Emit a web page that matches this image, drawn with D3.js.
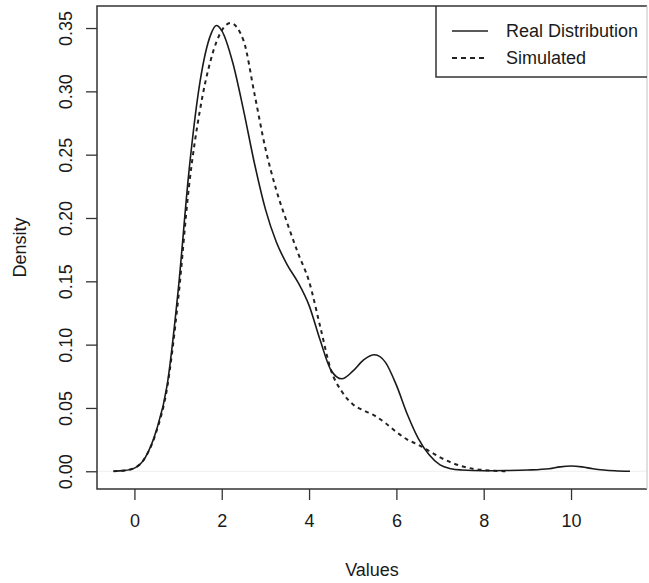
<!DOCTYPE html>
<html>
<head>
<meta charset="utf-8">
<script src="https://cdn.jsdelivr.net/npm/d3@7"></script>
<style>
  body { margin: 0; background: #fff; }
  text { font-family: "Liberation Sans", Arial, sans-serif; fill: #1a1a1a; }
</style>
</head>
<body>
<div id="chart"></div>
<script>
// values
var realX = [-0.48, -0.25, 0, 0.25, 0.5, 0.75, 1.0, 1.25, 1.5, 1.75, 1.88, 2.0, 2.25, 2.5, 2.75, 3.0, 3.25, 3.5, 3.75, 4.0, 4.25, 4.5, 4.75, 5.0, 5.25, 5.5, 5.75, 6.0, 6.25, 6.5, 6.75, 7.0, 7.25, 7.5, 8.0, 8.5, 9.0, 9.5, 9.75, 10.0, 10.25, 10.5, 10.75, 11.0, 11.35];
var realDensity = [0.000, 0.0005, 0.0025, 0.011, 0.032, 0.068, 0.142, 0.237, 0.307, 0.345, 0.352, 0.348, 0.323, 0.285, 0.243, 0.207, 0.181, 0.163, 0.149, 0.131, 0.104, 0.080, 0.073, 0.079, 0.088, 0.092, 0.086, 0.068, 0.045, 0.026, 0.013, 0.005, 0.002, 0.001, 0.0004, 0.0006, 0.001, 0.002, 0.0035, 0.0042, 0.0035, 0.002, 0.001, 0.0004, 0.0];

var simX = [-0.48, -0.25, 0, 0.25, 0.5, 0.75, 1.0, 1.25, 1.5, 1.75, 2.0, 2.2, 2.5, 2.75, 3.0, 3.25, 3.5, 3.75, 4.0, 4.25, 4.5, 4.75, 5.0, 5.25, 5.5, 5.75, 6.0, 6.25, 6.5, 6.75, 7.0, 7.25, 7.5, 7.75, 8.0, 8.25, 8.5];
var simDensity = [0.000, 0.0005, 0.0025, 0.011, 0.031, 0.066, 0.135, 0.225, 0.285, 0.325, 0.348, 0.354, 0.340, 0.298, 0.255, 0.222, 0.196, 0.172, 0.150, 0.115, 0.080, 0.063, 0.053, 0.048, 0.044, 0.038, 0.031, 0.025, 0.021, 0.016, 0.011, 0.007, 0.004, 0.002, 0.001, 0.0004, 0.0];

var xTicks = [0, 2, 4, 6, 8, 10];
var yTicks = [0, 0.05, 0.10, 0.15, 0.20, 0.25, 0.30, 0.35];
var legendLabels = ["Real Distribution", "Simulated"];

var svgWidth = 649;
var svgHeight = 583;

var plotLeft = 97, plotRight = 647, plotTop = 6, plotBottom = 489;

var svg = d3.select("#chart")
  .append("svg")
  .attr("width", svgWidth)
  .attr("height", svgHeight);

var xScale = d3.scaleLinear()
  .domain([-0.857, 11.74])
  .range([plotLeft, plotRight]);

var yScale = d3.scaleLinear()
  .domain([-0.014, 0.3674])
  .range([plotBottom, plotTop]);

// faint zero line
svg.append("line")
  .attr("x1", plotLeft)
  .attr("x2", plotRight)
  .attr("y1", yScale(0))
  .attr("y2", yScale(0))
  .attr("stroke", "#eee")
  .attr("stroke-width", 1.2);

var line = d3.line()
  .x(d => xScale(d[0]))
  .y(d => yScale(d[1]))
  .curve(d3.curveMonotoneX);

var realPts = realX.map((x, i) => [x, realDensity[i]]);
var simPts = simX.map((x, i) => [x, simDensity[i]]);

svg.append("path")
  .attr("d", line(simPts))
  .attr("fill", "none")
  .attr("stroke", "#222")
  .attr("stroke-width", 2)
  .attr("stroke-dasharray", "4,4");

svg.append("path")
  .attr("d", line(realPts))
  .attr("fill", "none")
  .attr("stroke", "#1a1a1a")
  .attr("stroke-width", 1.6);

// axes
var xAxis = d3.axisBottom(xScale)
  .tickValues(xTicks)
  .tickSize(11)
  .tickPadding(14)
  .tickFormat(d3.format("d"));

var gx = svg.append("g")
  .attr("transform", `translate(0, ${plotBottom})`)
  .call(xAxis);
gx.select(".domain").remove();
gx.selectAll("line").attr("stroke", "#333").attr("stroke-width", 1.3);
gx.selectAll("text").style("font-size", "18px").attr("fill", "#1a1a1a");

var yAxis = d3.axisLeft(yScale)
  .tickValues(yTicks)
  .tickSize(11)
  .tickFormat(d3.format(".2f"));

var gy = svg.append("g")
  .attr("transform", `translate(${plotLeft}, 0)`)
  .call(yAxis);
gy.select(".domain").remove();
gy.selectAll("line").attr("stroke", "#333").attr("stroke-width", 1.3);
gy.selectAll("text")
  .style("font-size", "18px")
  .attr("fill", "#1a1a1a")
  .attr("x", 0)
  .attr("y", -25)
  .attr("dy", 0)
  .attr("text-anchor", "middle")
  .attr("transform", "rotate(-90)");

// plot frame
svg.append("path")
  .attr("d", `M${plotRight},${plotTop}H${plotLeft}V${plotBottom}H${plotRight}`)
  .attr("fill", "none")
  .attr("stroke", "#333")
  .attr("stroke-width", 1.5);
svg.append("line")
  .attr("x1", plotRight).attr("x2", plotRight)
  .attr("y1", plotTop).attr("y2", plotBottom)
  .attr("stroke", "#ccc")
  .attr("stroke-width", 1.2);

// axis titles
svg.append("text")
  .attr("x", (plotLeft + plotRight) / 2)
  .attr("y", 576)
  .attr("text-anchor", "middle")
  .style("font-size", "18px")
  .text("Values");

svg.append("text")
  .attr("transform", `translate(26, ${(plotTop + plotBottom) / 2}) rotate(-90)`)
  .attr("text-anchor", "middle")
  .style("font-size", "18px")
  .text("Density");

// legend
var legend = svg.append("g");
legend.append("path")
  .attr("d", `M${plotRight},77H436V${plotTop}`)
  .attr("fill", "none")
  .attr("stroke", "#333")
  .attr("stroke-width", 1.5);

legend.selectAll(".leg-line")
  .data(legendLabels)
  .enter()
  .append("line")
  .attr("x1", 452)
  .attr("x2", 488)
  .attr("y1", (d, i) => 31 + i * 27)
  .attr("y2", (d, i) => 31 + i * 27)
  .attr("stroke", "#222")
  .attr("stroke-width", (d, i) => i == 0 ? 1.6 : 2)
  .attr("stroke-dasharray", (d, i) => i == 0 ? null : "5,4");

legend.selectAll(".leg-text")
  .data(legendLabels)
  .enter()
  .append("text")
  .attr("x", 506)
  .attr("y", (d, i) => 37 + i * 27)
  .style("font-size", "18px")
  .text(d => d);
</script>
</body>
</html>
